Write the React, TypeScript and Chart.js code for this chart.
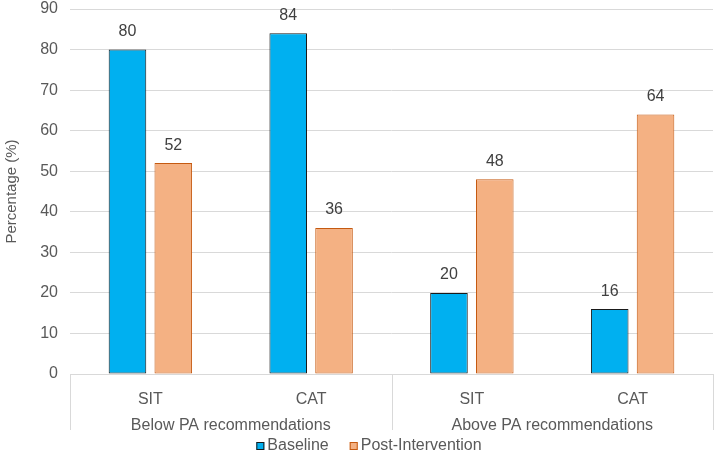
import React, { useEffect, useRef } from "react";
import { Chart, registerables } from "chart.js";

Chart.register(...registerables);

const categories = ["SIT", "CAT", "SIT", "CAT"];
const groups = ["Below PA recommendations", "Above PA recommendations"];
const baseline = [80, 84, 20, 16];
const postIntervention = [52, 36, 48, 64];
const seriesNames = ["Baseline", "Post-Intervention"];
const yTicksMax = 90;
const yStep = 10;

const FONT = "'Liberation Sans', Arial, sans-serif";
const TEXT = "#595959";
const GRID = "#D9D9D9";

const valueLabels = {
  id: "valueLabels",
  afterDatasetsDraw(chart: any) {
    const ctx = chart.ctx;
    ctx.save();
    ctx.font = `16px ${FONT}`;
    ctx.fillStyle = "#404040";
    ctx.textAlign = "center";
    ctx.textBaseline = "bottom";
    chart.data.datasets.forEach((ds: any, di: number) => {
      const meta = chart.getDatasetMeta(di);
      meta.data.forEach((bar: any, i: number) => {
        ctx.fillText(String(ds.data[i]), bar.x, bar.y - 10);
      });
    });
    ctx.restore();
  },
};

const groupAxis = {
  id: "groupAxis",
  afterDraw(chart: any) {
    const ctx = chart.ctx;
    const xs = chart.scales.x;
    const area = chart.chartArea;
    const bottom = area.bottom;
    const lineEnd = bottom + 56;
    const mid = (xs.getPixelForValue(1) + xs.getPixelForValue(2)) / 2;
    ctx.save();
    ctx.strokeStyle = GRID;
    ctx.lineWidth = 1;
    [area.left, mid, area.right].forEach((x: number) => {
      const px = Math.round(x) + 0.5;
      ctx.beginPath();
      ctx.moveTo(px, bottom);
      ctx.lineTo(px, lineEnd);
      ctx.stroke();
    });
    ctx.font = `16px ${FONT}`;
    ctx.fillStyle = TEXT;
    ctx.textAlign = "center";
    ctx.textBaseline = "middle";
    const c0 = (area.left + mid) / 2;
    const c1 = (mid + area.right) / 2;
    ctx.fillText(groups[0], c0, bottom + 52);
    ctx.fillText(groups[1], c1, bottom + 52);

    // legend
    const ds = chart.data.datasets;
    const box = 8;
    const gapText = 3;
    const gapItem = 21;
    ctx.font = `16px ${FONT}`;
    const widths = ds.map((d: any) => ctx.measureText(d.label).width);
    const total = widths.reduce((a: number, w: number) => a + box + gapText + w, 0) + gapItem * (ds.length - 1);
    let x = chart.width / 2 + 9 - total / 2;
    const y = 446;
    ctx.textAlign = "left";
    ctx.textBaseline = "middle";
    ds.forEach((d: any, i: number) => {
      ctx.fillStyle = d.backgroundColor;
      ctx.fillRect(x, y - box / 2, box, box);
      ctx.strokeStyle = d.borderColor;
      ctx.lineWidth = 1;
      ctx.strokeRect(x + 0.5, y - box / 2 + 0.5, box - 1, box - 1);
      ctx.fillStyle = TEXT;
      ctx.fillText(d.label, x + box + gapText, y);
      x += box + gapText + widths[i] + gapItem;
    });
    ctx.restore();
  },
};

export default function App() {
  const ref = useRef<HTMLCanvasElement>(null);
  useEffect(() => {
    document.body.style.margin = "0";
    const chart = new Chart(ref.current!, {
      type: "bar",
      data: {
        labels: categories,
        datasets: [
          {
            label: seriesNames[0],
            data: baseline,
            backgroundColor: "#00B0F0",
            borderColor: "#1A1A1A",
            borderWidth: 1,
            borderSkipped: false,
            categoryPercentage: 0.57,
            barPercentage: 0.82,
          },
          {
            label: seriesNames[1],
            data: postIntervention,
            backgroundColor: "#F4B183",
            borderColor: "#C55A11",
            borderWidth: 1,
            borderSkipped: false,
            categoryPercentage: 0.57,
            barPercentage: 0.82,
          },
        ],
      },
      options: {
        responsive: false,
        animation: false,
        layout: { padding: { top: 9, right: 7, left: 0, bottom: 24 } },
        scales: {
          x: {
            grid: { display: false },
            border: { display: true, color: GRID },
            ticks: {
              color: TEXT,
              font: { family: FONT, size: 16 },
              padding: 8,
            },
            afterFit(scale: any) {
              scale.height = 57;
            },
          },
          y: {
            min: 0,
            max: yTicksMax,
            ticks: {
              stepSize: yStep,
              color: TEXT,
              font: { family: FONT, size: 16 },
              padding: 12,
            },
            grid: { color: GRID, drawTicks: false },
            border: { display: false },
            title: {
              display: true,
              text: "Percentage (%)",
              color: TEXT,
              font: { family: FONT, size: 15 },
              padding: { top: 3, bottom: 4 },
            },
            afterFit(scale: any) {
              scale.width = 70;
              scale.paddingTop = 0;
              scale.paddingBottom = 0;
            },
          },
        },
        plugins: {
          legend: { display: false },
          tooltip: { enabled: false },
        },
      },
      plugins: [valueLabels, groupAxis],
    });
    return () => chart.destroy();
  }, []);
  return <canvas ref={ref} width={720} height={455} style={{ display: "block" }} />;
}
